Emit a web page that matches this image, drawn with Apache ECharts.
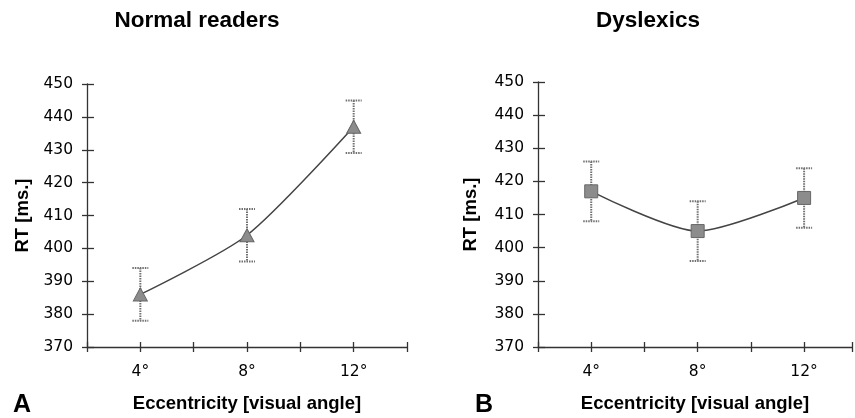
<!DOCTYPE html>
<html><head><meta charset="utf-8">
<script src="https://cdn.jsdelivr.net/npm/echarts@6/dist/echarts.min.js"></script>
<style>html,body{margin:0;padding:0;background:#fff}#c{width:855px;height:418px}</style>
</head><body><div id="c"></div>
<script>
const eccentricity = [4, 8, 12];
const normalMean = [386, 404, 437];
const normalErr = [8, 8, 8];
const dyslexicMean = [417, 405, 415];
const dyslexicErr = [9, 9, 9];
const xTickLabels = {4: '4°', 8: '8°', 12: '12°'};
const yTicks = [370, 380, 390, 400, 410, 420, 430, 440, 450];

const BOLD = 'Liberation Sans, Arial, Helvetica, sans-serif';
const REG = 'DejaVu Sans, sans-serif';
const INK = '#000';

function errRender(params, api) {
  const x = api.value(0), lo = api.value(1), hi = api.value(2);
  const top = api.coord([x, hi]), bot = api.coord([x, lo]);
  const w = 8;
  const style = {stroke: '#707070', lineWidth: 2, lineDash: [1.5, 1]};
  return {type: 'group', children: [
    {type: 'line', shape: {x1: top[0], y1: top[1], x2: bot[0], y2: bot[1]}, style},
    {type: 'line', shape: {x1: top[0] - w, y1: top[1], x2: top[0] + w, y2: top[1]}, style},
    {type: 'line', shape: {x1: bot[0] - w, y1: bot[1], x2: bot[0] + w, y2: bot[1]}, style}
  ]};
}

function xAx(grid, main, max) {
  return {
    type: 'value', gridIndex: grid, min: 2, max: max, interval: 2, position: 'bottom',
    axisLine: {show: main, onZero: false, lineStyle: {color: '#333', width: 1.3}},
    axisTick: {show: true, inside: !main, length: 5, lineStyle: {color: '#333', width: 1.3}},
    splitLine: {show: false},
    axisLabel: {show: main, margin: 17, fontSize: 15.5, color: INK, fontFamily: REG,
      formatter: v => xTickLabels[v] || ''},
    name: main ? 'Eccentricity [visual angle]' : '', nameLocation: 'middle', nameGap: 47,
    nameTextStyle: {fontSize: 18.5, fontWeight: 'bold', color: INK, fontFamily: BOLD}
  };
}
function yAx(grid, main, gap) {
  return {
    type: 'value', gridIndex: grid, min: yTicks[0], max: yTicks[yTicks.length - 1], interval: 10,
    position: 'left',
    axisLine: {show: main, onZero: false, lineStyle: {color: '#333', width: 1.3}},
    axisTick: {show: true, inside: !main, length: main ? 5 : 7, lineStyle: {color: '#333', width: 1.3}},
    splitLine: {show: false},
    axisLabel: {show: main, margin: 14, fontSize: 15.5, color: INK, fontFamily: REG},
    name: main ? 'RT [ms.]' : '', nameLocation: 'middle', nameGap: gap,
    nameTextStyle: {fontSize: 18.5, fontWeight: 'bold', color: INK, fontFamily: BOLD}
  };
}

const chart = echarts.init(document.getElementById('c'));
const lineStyle = {color: '#444', width: 1.5};
chart.setOption({
  animation: false,
  backgroundColor: '#fff',
  graphic: [
    {type: 'text', x: 197, y: 9, style: {text: 'Normal readers', fontSize: 22.5, fontWeight: 'bold', fill: INK, fontFamily: BOLD, align: 'center'}},
    {type: 'text', x: 648, y: 9, style: {text: 'Dyslexics', fontSize: 22.5, fontWeight: 'bold', fill: INK, fontFamily: BOLD, align: 'center'}},
    {type: 'text', x: 13, y: 393, style: {text: 'A', fontSize: 25, fontWeight: 'bold', fill: INK, fontFamily: BOLD}},
    {type: 'text', x: 475, y: 393, style: {text: 'B', fontSize: 25, fontWeight: 'bold', fill: INK, fontFamily: BOLD}}
  ],
  grid: [
    {left: 87, top: 84, width: 320, height: 264},
    {left: 538, top: 82, width: 317, height: 265}
  ],
  xAxis: [xAx(0, true, 14), xAx(0, false, 14), xAx(1, true, 13.8), xAx(1, false, 13.8)],
  yAxis: [yAx(0, true, 55), yAx(0, false, 55), yAx(1, true, 58), yAx(1, false, 58)],
  series: [
    {type: 'custom', xAxisIndex: 0, yAxisIndex: 0, renderItem: errRender, z: 2,
      data: eccentricity.map((x, i) => [x, normalMean[i] - normalErr[i], normalMean[i] + normalErr[i]])},
    {type: 'line', xAxisIndex: 0, yAxisIndex: 0, smooth: 0.25, z: 3,
      data: eccentricity.map((x, i) => [x, normalMean[i]]),
      lineStyle, symbol: 'triangle', symbolSize: [14, 13],
      itemStyle: {color: '#8c8c8c', borderColor: '#666', borderWidth: 1}},
    {type: 'custom', xAxisIndex: 2, yAxisIndex: 2, renderItem: errRender, z: 2,
      data: eccentricity.map((x, i) => [x, dyslexicMean[i] - dyslexicErr[i], dyslexicMean[i] + dyslexicErr[i]])},
    {type: 'line', xAxisIndex: 2, yAxisIndex: 2, smooth: 0.25, z: 3,
      data: eccentricity.map((x, i) => [x, dyslexicMean[i]]),
      lineStyle, symbol: 'rect', symbolSize: 13,
      itemStyle: {color: '#8c8c8c', borderColor: '#666', borderWidth: 1}}
  ]
});
</script></body></html>
